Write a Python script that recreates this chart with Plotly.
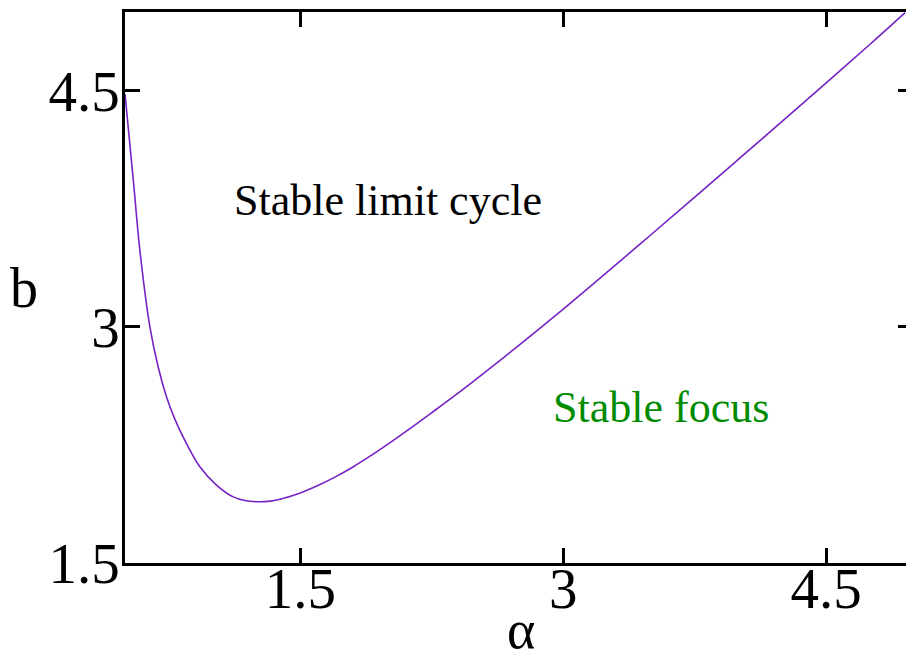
import plotly.graph_objects as go

# Hopf boundary in the (alpha, b) plane
alpha = [0.500, 0.550, 0.585, 0.642, 0.690, 0.737, 0.785, 0.832, 0.927, 1.022,
         1.117, 1.190, 1.259, 1.330, 1.400, 1.500, 1.600, 1.700, 1.800, 1.900,
         2.000, 2.125, 2.250, 2.375, 2.500, 2.625, 2.750, 2.875, 3.000, 3.250,
         3.500, 3.750, 4.000, 4.250, 4.500, 4.750, 4.950]
b_crit = [4.480, 3.900, 3.485, 3.000, 2.742, 2.555, 2.412, 2.300, 2.111, 1.995,
          1.920, 1.895, 1.889, 1.893, 1.910, 1.945, 1.992, 2.047, 2.110, 2.180,
          2.255, 2.353, 2.455, 2.558, 2.665, 2.774, 2.885, 2.998, 3.113, 3.347,
          3.585, 3.824, 4.065, 4.307, 4.550, 4.795, 4.996]

x_ticks = [1.5, 3, 4.5]
y_ticks = [1.5, 3, 4.5]
x_range = [0.5, 4.955]
y_range = [1.5, 5.0]

region_labels = ["Stable limit cycle", "Stable focus"]
region_pos = [(2.003, 3.80), (3.557, 2.49)]
region_colors = ["#000000", "#008b00"]

SERIF = "Liberation Serif, Times New Roman, Times, serif"
CURVE = "rgb(118,34,196)"

fig = go.Figure()
fig.add_trace(go.Scatter(x=alpha, y=b_crit, mode="lines",
                         line=dict(color=CURVE, width=1.6, shape="spline", smoothing=1.0),
                         showlegend=False, hoverinfo="skip"))
# companion trace so the right-hand tick axis is drawn
fig.add_trace(go.Scatter(x=alpha, y=b_crit, mode="lines", yaxis="y2",
                         line=dict(color="rgba(0,0,0,0)", width=0),
                         showlegend=False, hoverinfo="skip"))

for text, (tx, ty), col in zip(region_labels, region_pos, region_colors):
    fig.add_annotation(x=tx, y=ty, xref="x", yref="y", text=text, showarrow=False,
                       xanchor="center", yanchor="middle",
                       font=dict(family=SERIF, size=44, color=col))

fig.add_annotation(x=-0.129, y=0.50, xref="paper", yref="paper", text="b",
                   showarrow=False, xanchor="center", yanchor="middle",
                   font=dict(family=SERIF, size=56, color="black"))
fig.add_annotation(x=0.507, y=-0.122, xref="paper", yref="paper", text="α",
                   showarrow=False, xanchor="center", yanchor="middle",
                   font=dict(family=SERIF, size=54, color="black"))

axis_common = dict(showgrid=False, zeroline=False, ticks="inside", ticklen=15,
                   tickwidth=2.5, tickcolor="black", showline=True, linewidth=2.5,
                   linecolor="black", tickfont=dict(family=SERIF, size=57, color="black"))

fig.update_layout(
    width=906, height=655,
    margin=dict(l=125, r=0, t=12, b=92),
    paper_bgcolor="white", plot_bgcolor="white",
    xaxis=dict(range=x_range, tickmode="array", tickvals=x_ticks,
               ticktext=[f"{v:g}" for v in x_ticks], mirror="ticks",
               ticklabelstandoff=-26, **axis_common),
    yaxis=dict(range=y_range, tickmode="array", tickvals=y_ticks,
               ticktext=[f"{v:g}" for v in y_ticks], mirror=False,
               ticklabelstandoff=-9, **axis_common),
    yaxis2=dict(range=y_range, overlaying="y", side="right", tickmode="array",
                tickvals=y_ticks, ticks="inside", ticklen=8, tickwidth=2.5,
                tickcolor="black", showline=False, showgrid=False, zeroline=False,
                showticklabels=False),
)

fig.write_html("out.html")
